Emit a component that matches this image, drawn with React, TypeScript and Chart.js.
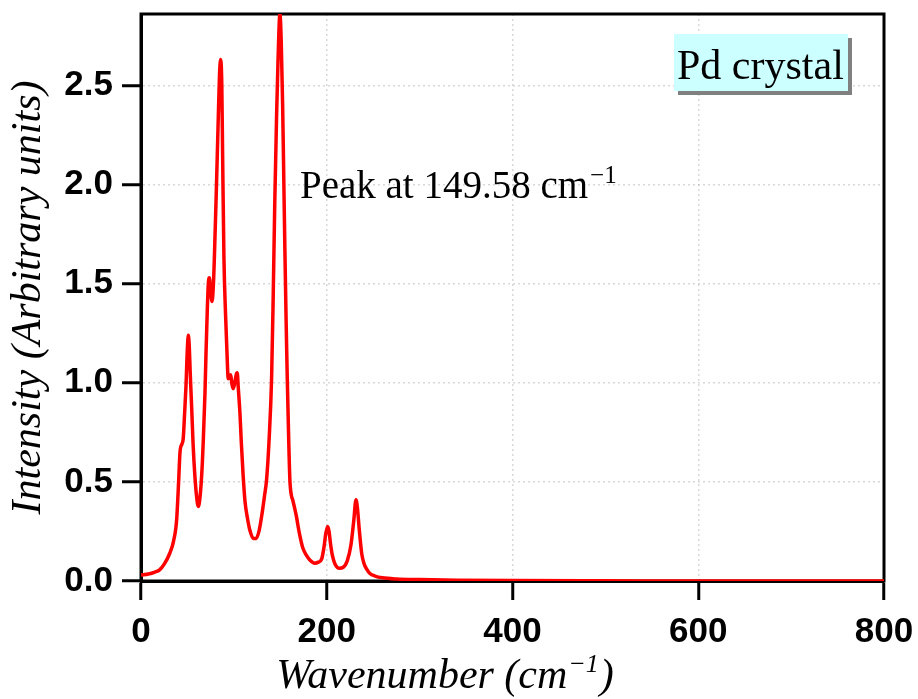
import React, { useEffect, useRef } from 'react';
import { Chart, registerables } from 'chart.js';

Chart.register(...registerables);

// Wavenumber (cm^-1) sample positions
const wavenumber = [
  0, 8, 15, 20, 25, 31, 35, 38.4, 40.5, 42, 44, 45.5, 47, 48.4, 50, 51, 52, 53, 54.6, 56,
  58, 60, 61.7, 63, 65.3, 67, 68.9, 70, 71.4, 72.5, 73.6, 75, 76.5, 78, 79, 81, 83, 84.5,
  85.8, 87, 88, 89.3, 91, 92.2, 94, 95.2, 96.6, 98, 99.3, 101, 102.5, 103.6, 104.8, 106.5,
  108, 110, 112, 114.5, 117, 121, 124, 127, 130, 133, 135.2, 138, 140.6, 142.4, 144, 146,
  147.5, 149.58, 151, 152.5, 154, 155, 156.3, 157.5, 159, 160.3, 162, 163.3, 165.8, 167.6,
  169, 171, 174, 178, 182, 187, 191, 194.5, 197, 199, 201, 202.5, 204, 206, 209, 213.5,
  218, 222, 226, 229, 231.5, 233, 235, 237.6, 240, 243, 246.5, 252, 260, 275, 300, 340,
  400, 500, 600, 700, 800,
];

// Intensity (arbitrary units) at each wavenumber
const intensity = [
  0.03, 0.035, 0.045, 0.056, 0.085, 0.14, 0.2, 0.31, 0.5, 0.65, 0.69, 0.72, 0.85, 0.98, 1.18, 1.24, 1.18, 1.05, 0.87, 0.7,
  0.53, 0.42, 0.376, 0.4, 0.53, 0.7, 0.95, 1.15, 1.37, 1.5, 1.53, 1.46, 1.41, 1.5, 1.63, 1.95, 2.3, 2.55,
  2.63, 2.5, 2.1, 1.63, 1.35, 1.2, 1.02, 1.03, 1.04, 0.99, 0.97, 1.0, 1.04, 1.05, 0.97, 0.85,
  0.7, 0.53, 0.4, 0.32, 0.26, 0.215, 0.215, 0.25, 0.33, 0.43, 0.51, 0.72, 1.02, 1.45, 1.9, 2.35,
  2.62, 2.86, 2.72, 2.4, 1.95, 1.65, 1.3, 1.02, 0.72, 0.51, 0.43, 0.41, 0.36, 0.32,
  0.28, 0.23, 0.17, 0.13, 0.105, 0.09, 0.095, 0.11, 0.17, 0.24, 0.275, 0.25, 0.19, 0.13, 0.085, 0.064,
  0.07, 0.1, 0.18, 0.3, 0.41, 0.37, 0.26, 0.14, 0.09, 0.06, 0.038, 0.025, 0.016, 0.01, 0.007, 0.004,
  0.002, 0.001, 0, 0, 0,
];

const xTickValues = [0, 200, 400, 600, 800];
const yTickValues = [0, 0.5, 1.0, 1.5, 2.0, 2.5];
const xRange = [0, 800];
const yRange = [0, 2.86];

const yTitle = 'Intensity (Arbitrary units)';
const xTitleMain = 'Wavenumber (cm';
const xTitleSup = '\u22121';
const peakLabel = 'Peak at 149.58 cm';
const peakSup = '\u22121';
const sampleLabel = 'Pd crystal';

const textPlugin = {
  id: 'customText',
  beforeDatasetsDraw(chart: any) {
    const { ctx, chartArea } = chart;
    ctx.save();
    ctx.strokeStyle = '#000';
    ctx.lineWidth = 3;
    ctx.strokeRect(chartArea.left, chartArea.top, chartArea.right - chartArea.left, chartArea.bottom - chartArea.top);
    ctx.restore();
  },
  afterDraw(chart: any) {
    const { ctx } = chart;
    ctx.save();
    ctx.fillStyle = '#000';
    ctx.textBaseline = 'alphabetic';

    // x-axis title with superscript
    const mainFont = 'italic 42px "Liberation Serif"';
    const supFont = 'italic 26px "Liberation Serif"';
    ctx.font = mainFont;
    const w1 = ctx.measureText(xTitleMain).width;
    const w3 = ctx.measureText(')').width;
    ctx.font = supFont;
    const w2 = ctx.measureText(xTitleSup).width;
    const total = w1 + w2 + w3 + 2;
    let x = 445 - total / 2;
    const base = 688;
    ctx.font = mainFont;
    ctx.fillText(xTitleMain, x, base);
    x += w1 + 1;
    ctx.font = supFont;
    ctx.fillText(xTitleSup, x, base - 16);
    x += w2 + 1;
    ctx.font = mainFont;
    ctx.fillText(')', x, base);

    // peak annotation
    ctx.font = '39px "Liberation Serif"';
    const pw = ctx.measureText(peakLabel).width;
    ctx.fillText(peakLabel, 300, 198);
    ctx.font = '25px "Liberation Serif"';
    ctx.fillText(peakSup, 300 + pw + 2, 183);

    // sample box
    ctx.fillStyle = '#808080';
    ctx.fillRect(678, 38, 174, 57);
    ctx.fillStyle = '#ccffff';
    ctx.fillRect(674, 34, 174, 57);
    ctx.fillStyle = '#000';
    ctx.font = '42px "Liberation Serif"';
    ctx.fillText(sampleLabel, 677, 79);
    ctx.restore();
  },
};

const zeroPadding = (scale: any) => {
  scale.paddingTop = 0;
  scale.paddingBottom = 0;
  scale.paddingLeft = 0;
  scale.paddingRight = 0;
};

export default function App() {
  const canvasRef = useRef<HTMLCanvasElement | null>(null);

  useEffect(() => {
    if (!canvasRef.current) return;
    const points = wavenumber.map((w, i) => ({ x: w, y: intensity[i] }));
    const tickFont = { family: '"Liberation Sans", Arial, sans-serif', size: 35, weight: 'bold' as const };
    const chart = new Chart(canvasRef.current, {
      type: 'line',
      data: {
        datasets: [
          {
            data: points,
            borderColor: '#ff0000',
            borderWidth: 3.5,
            pointRadius: 0,
            cubicInterpolationMode: 'monotone',
            fill: false,
          },
        ],
      },
      options: {
        responsive: false,
        animation: false,
        layout: { padding: { top: 14, right: 34, left: 0, bottom: 0 } },
        plugins: { legend: { display: false }, tooltip: { enabled: false } },
        scales: {
          x: {
            type: 'linear',
            min: xRange[0],
            max: xRange[1],
            afterBuildTicks: (scale: any) => {
              scale.ticks = xTickValues.map((v) => ({ value: v }));
            },
            afterFit: (scale: any) => {
              scale.height = 118;
              zeroPadding(scale);
            },
            ticks: {
              font: tickFont,
              color: '#000',
              padding: 11,
              maxRotation: 0,
              callback: (v: any) => String(v),
            },
            grid: {
              color: 'rgba(190,190,190,0.6)',
              lineWidth: 1.5,
              tickColor: '#000',
              tickWidth: 3,
              tickLength: 19,
            },
            border: { display: true, color: '#000', width: 3, dash: [2, 3] },
          },
          y: {
            type: 'linear',
            min: yRange[0],
            max: yRange[1],
            afterBuildTicks: (scale: any) => {
              scale.ticks = yTickValues.map((v) => ({ value: v }));
            },
            afterFit: (scale: any) => {
              scale.width = 141;
              zeroPadding(scale);
            },
            ticks: {
              font: tickFont,
              color: '#000',
              padding: 9,
              callback: (v: any) => Number(v).toFixed(1),
            },
            grid: {
              color: 'rgba(190,190,190,0.6)',
              lineWidth: 1.5,
              tickColor: '#000',
              tickWidth: 3,
              tickLength: 19,
            },
            border: { display: true, color: '#000', width: 3, dash: [2, 3] },
            title: {
              display: true,
              text: yTitle,
              color: '#000',
              font: { family: '"Liberation Serif", serif', size: 42, style: 'italic' },
              padding: { top: 4, bottom: 0 },
            },
          },
        },
      },
      plugins: [textPlugin],
    });
    return () => chart.destroy();
  }, []);

  return (
    <div style={{ position: 'absolute', left: 0, top: 0, width: 918, height: 699, background: '#fff' }}>
      <canvas ref={canvasRef} width={918} height={699} style={{ display: 'block' }} />
    </div>
  );
}
